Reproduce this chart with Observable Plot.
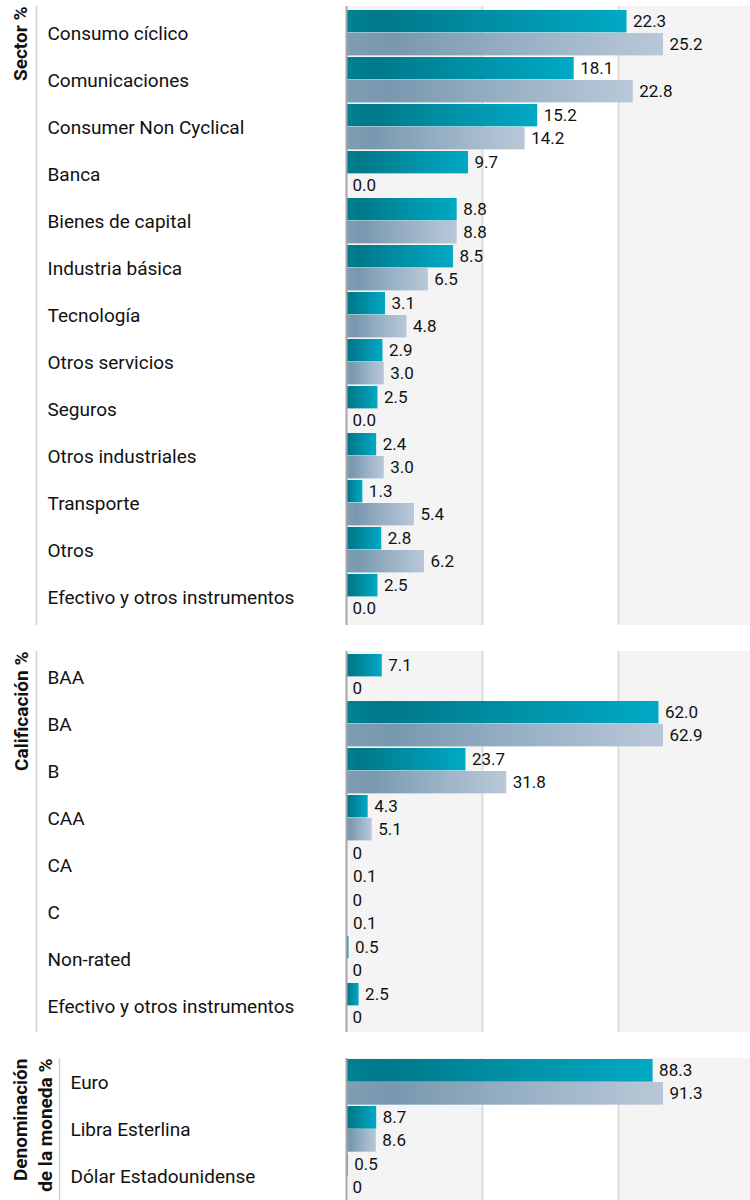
<!DOCTYPE html>
<html><head><meta charset="utf-8">
<script src="https://cdn.jsdelivr.net/npm/d3@7"></script>
<script src="https://cdn.jsdelivr.net/npm/@observablehq/plot@0.6"></script>
<style>
body{margin:0;background:#fff;}
#root{width:750px;height:1200px;overflow:hidden;position:relative;}
#root svg{display:block;}
</style></head><body><div id="root"></div>
<script>
// ---- Data ----
const sectorCats = ["Consumo cíclico","Comunicaciones","Consumer Non Cyclical","Banca","Bienes de capital","Industria básica","Tecnología","Otros servicios","Seguros","Otros industriales","Transporte","Otros","Efectivo y otros instrumentos"];
const sectorFund  = [22.3,18.1,15.2,9.7,8.8,8.5,3.1,2.9,2.5,2.4,1.3,2.8,2.5];
const sectorIndex = [25.2,22.8,14.2,0.0,8.8,6.5,4.8,3.0,0.0,3.0,5.4,6.2,0.0];

const ratingCats  = ["BAA","BA","B","CAA","CA","C","Non-rated","Efectivo y otros instrumentos"];
const ratingFund  = [7.1,62.0,23.7,4.3,0,0,0.5,2.5];
const ratingIndex = [0,62.9,31.8,5.1,0.1,0.1,0,0];

const currCats  = ["Euro","Libra Esterlina","Dólar Estadounidense"];
const currFund  = [88.3,8.7,0.5];
const currIndex = [91.3,8.6,0];

const titles = [["Sector %"],["Calificación %"],["Denominación","de la moneda %"]];

// ---- Chart builder ----
const fmt1 = v => v.toFixed(1);
const fmt0 = v => v === 0 ? "0" : v.toFixed(1);

function makeChart(cfg, idx) {
  const {cats, fund, bench, fmt, labelX, lineX, titleXs, title, height, marginBottom, marginTopCss} = cfg;
  const mt = 6;
  const bw = (height - mt - marginBottom) / cats.length;
  const H = 23;
  const maxVal = d3.max([...fund, ...bench]);
  const D = maxVal * 408 / 317;
  const rowsA = cats.map((c, i) => ({c, v: fund[i]}));
  const rowsB = cats.map((c, i) => ({c, v: bench[i]}));
  const titleRows = title.map((t, i) => ({t, dx: titleXs[i] - 346}));
  const svg = Plot.plot({
    width: 750, height, marginLeft: 346, marginRight: 0, marginTop: mt, marginBottom,
    x: {domain: [0, D], range: [346, 754], axis: null},
    y: {domain: cats, padding: 0, axis: null},
    style: {fontFamily: "Roboto, sans-serif", background: "transparent", color: "#111"},
    marks: [
      Plot.rect([[0, D / 3], [2 * D / 3, D]], {x1: d => d[0], x2: d => d[1], fill: "#f4f4f4"}),
      Plot.ruleX([D / 3, 2 * D / 3], {stroke: "#dcdcdc", strokeWidth: 2}),
      Plot.barX(rowsA, {x: "v", y: "c", fill: `url(#gA${idx})`, insetTop: 0, insetBottom: bw - H}),
      Plot.barX(rowsB, {x: "v", y: "c", fill: `url(#gB${idx})`, insetTop: H, insetBottom: bw - 2 * H}),
      Plot.ruleX([0], {stroke: "#a6a6a6", strokeWidth: 2}),
      Plot.ruleX([0], {dx: lineX - 346, stroke: "#d0d0d0", strokeWidth: 1.5}),
      Plot.text(rowsA, {x: "v", y: "c", text: d => fmt(d.v), dx: 6, dy: H / 2 - bw / 2, textAnchor: "start", fontSize: 17, fill: "#111"}),
      Plot.text(rowsB, {x: "v", y: "c", text: d => fmt(d.v), dx: 6, dy: 1.5 * H - bw / 2, textAnchor: "start", fontSize: 17, fill: "#111"}),
      Plot.text(cats, {y: d => d, text: d => d, frameAnchor: "left", dx: labelX - 346, textAnchor: "start", fontSize: 19, fill: "#111"}),
      ...titleRows.map(r => Plot.text([r.t], {text: d => d, frameAnchor: "top-left", rotate: -90, textAnchor: "end", dx: r.dx, fontSize: 19, fontWeight: "bold", fill: "#111"}))
    ]
  });
  const defs = d3.select(svg).insert("defs", ":first-child");
  const gA = defs.append("linearGradient").attr("id", `gA${idx}`).attr("x1", "0").attr("x2", "1").attr("y1", "0").attr("y2", "0");
  [[0, "#008391"], [0.12, "#00788a"], [0.55, "#0091a7"], [1, "#00a9c5"]].forEach(([o, c]) => gA.append("stop").attr("offset", o).attr("stop-color", c));
  const gB = defs.append("linearGradient").attr("id", `gB${idx}`).attr("x1", "0").attr("x2", "1").attr("y1", "0").attr("y2", "0");
  [[0, "#809eb3"], [0.15, "#7898af"], [0.55, "#98b0c4"], [1, "#b9c8d8"]].forEach(([o, c]) => gB.append("stop").attr("offset", o).attr("stop-color", c));
  svg.style.marginTop = marginTopCss + "px";
  return svg;
}

const root = document.getElementById("root");
root.appendChild(makeChart({cats: sectorCats, fund: sectorFund, bench: sectorIndex, fmt: fmt1, labelX: 47, lineX: 36, titleXs: [13], title: titles[0], height: 630, marginBottom: 5, marginTopCss: 0}, 0));
root.appendChild(makeChart({cats: ratingCats, fund: ratingFund, bench: ratingIndex, fmt: fmt0, labelX: 47, lineX: 36, titleXs: [14], title: titles[1], height: 392, marginBottom: 5, marginTopCss: 15}, 1));
root.appendChild(makeChart({cats: currCats, fund: currFund, bench: currIndex, fmt: fmt0, labelX: 70, lineX: 59, titleXs: [13, 38], title: titles[2], height: 148, marginBottom: 0, marginTopCss: 15}, 2));
</script></body></html>
